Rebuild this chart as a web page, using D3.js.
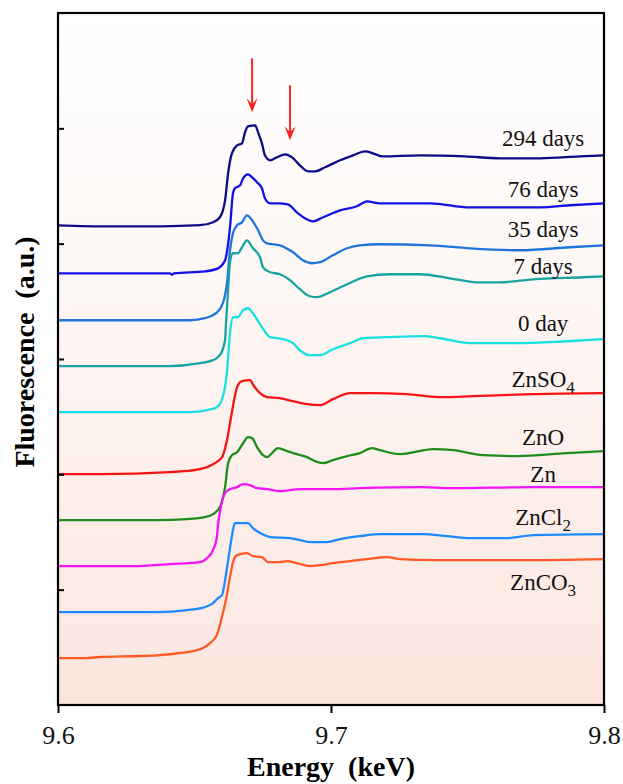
<!DOCTYPE html>
<html>
<head>
<meta charset="utf-8">
<script src="https://cdn.jsdelivr.net/npm/d3@7"></script>
<style>
  body { margin: 0; background: #fff; }
</style>
</head>
<body>
<script>
// size of the main svg element
var width = 623,
    height = 784;

// plot margins
var margin = {top: 13, right: 19, bottom: 79, left: 58};
var innerW = width - margin.left - margin.right,
    innerH = height - margin.top - margin.bottom;

var labelFont = '"Liberation Serif", "Times New Roman", Tinos, serif';

// x ticks (keV)
var xTicks = [9.6, 9.7, 9.8];
// y ticks (a.u., no labels)
var yTicks = [1, 2, 3, 4, 5];

// spectra: [energy keV, fluorescence a.u. incl. offset]
var days294 = [[9.6,4.159],[9.619,4.150],[9.6374,4.150],[9.652,4.160],[9.6568,4.186],[9.6593,4.229],
  [9.6612,4.376],[9.6623,4.610],[9.6637,4.783],[9.6656,4.853],[9.6674,4.870],[9.6685,4.965],
  [9.6696,5.017],[9.6722,5.026],[9.6733,4.965],[9.6747,4.870],[9.6758,4.766],[9.6777,4.723],
  [9.6802,4.749],[9.6832,4.775],[9.6857,4.749],[9.6886,4.679],[9.6916,4.627],[9.6941,4.627],
  [9.6978,4.662],[9.7033,4.723],[9.7081,4.766],[9.7125,4.801],[9.7154,4.783],[9.7187,4.757],
  [9.7326,4.766],[9.7491,4.757],[9.7619,4.740],[9.7766,4.740],[9.7912,4.757],[9.8,4.766]];

var days76 = [[9.6,3.743],[9.641,3.743],[9.6418,3.730],[9.6425,3.743],[9.6538,3.760],[9.6586,3.786],
  [9.6612,3.856],[9.663,4.142],[9.6641,4.437],[9.6648,4.480],[9.6667,4.506],[9.6678,4.567],
  [9.6696,4.601],[9.6711,4.575],[9.6729,4.532],[9.6747,4.480],[9.6758,4.393],[9.6777,4.350],
  [9.6806,4.350],[9.6842,4.341],[9.6875,4.272],[9.6905,4.220],[9.6934,4.194],[9.6971,4.229],
  [9.7033,4.289],[9.7095,4.324],[9.7132,4.367],[9.7179,4.350],[9.7363,4.350],[9.7509,4.315],
  [9.7766,4.315],[9.7875,4.333],[9.8,4.350]];

var days35 = [[9.6,3.336],[9.6484,3.336],[9.6538,3.354],[9.6579,3.397],[9.6604,3.484],[9.6619,3.657],
  [9.663,3.943],[9.6641,4.090],[9.6656,4.159],[9.6674,4.185],[9.6692,4.246],[9.6711,4.203],
  [9.6733,4.116],[9.6751,4.029],[9.6766,4.003],[9.6813,3.986],[9.6861,3.925],[9.6897,3.856],
  [9.693,3.830],[9.696,3.839],[9.7007,3.899],[9.7059,3.960],[9.7106,3.986],[9.7179,3.995],
  [9.7363,3.986],[9.7509,3.960],[9.7692,3.943],[9.7875,3.969],[9.8,3.986]];

var days7 = [[9.6,2.938],[9.6403,2.938],[9.652,2.964],[9.6568,2.990],[9.6593,3.033],[9.6612,3.163],
  [9.6615,3.293],[9.6623,3.596],[9.663,3.839],[9.6641,3.917],[9.6659,3.917],[9.6674,3.969],
  [9.6692,4.029],[9.6714,3.960],[9.674,3.882],[9.6751,3.795],[9.6777,3.752],[9.6813,3.735],
  [9.685,3.683],[9.6886,3.605],[9.6923,3.544],[9.6949,3.536],[9.6996,3.579],[9.7059,3.648],
  [9.7132,3.717],[9.7216,3.735],[9.7326,3.735],[9.7436,3.700],[9.7535,3.665],[9.7619,3.665],
  [9.774,3.691],[9.7923,3.709],[9.8,3.717]];

var days0 = [[9.6,2.539],[9.6484,2.539],[9.6546,2.556],[9.6582,2.582],[9.6601,2.652],[9.6619,2.886],
  [9.663,3.224],[9.6641,3.362],[9.6659,3.362],[9.6678,3.423],[9.6696,3.440],[9.6714,3.397],
  [9.6747,3.276],[9.6777,3.189],[9.6824,3.172],[9.6861,3.137],[9.6886,3.076],[9.6923,3.033],
  [9.696,3.033],[9.7007,3.085],[9.707,3.137],[9.7117,3.180],[9.7205,3.189],[9.7337,3.198],
  [9.7399,3.180],[9.7509,3.137],[9.7681,3.137],[9.7864,3.154],[9.8,3.172]];

var znso4 = [[9.6,2.002],[9.6154,2.002],[9.641,2.019],[9.652,2.045],[9.6568,2.088],[9.6601,2.149],
  [9.6619,2.296],[9.6637,2.539],[9.6656,2.756],[9.6674,2.808],[9.6703,2.816],[9.6718,2.764],
  [9.674,2.704],[9.6766,2.669],[9.6813,2.660],[9.6861,2.634],[9.6912,2.608],[9.696,2.600],
  [9.7007,2.652],[9.707,2.704],[9.7143,2.704],[9.7278,2.695],[9.741,2.669],[9.752,2.678],
  [9.774,2.695],[9.8,2.704]];

var zno = [[9.6,1.603],[9.6363,1.603],[9.6473,1.612],[9.6538,1.629],[9.6568,1.655],[9.6593,1.716],
  [9.6612,1.889],[9.6623,2.097],[9.6637,2.166],[9.6656,2.192],[9.6678,2.270],[9.6696,2.322],
  [9.6711,2.314],[9.6729,2.236],[9.6751,2.166],[9.6766,2.149],[9.6784,2.184],[9.6806,2.227],
  [9.6839,2.201],[9.6875,2.175],[9.6912,2.149],[9.6941,2.114],[9.6971,2.097],[9.7007,2.123],
  [9.7059,2.158],[9.7106,2.184],[9.715,2.227],[9.7179,2.210],[9.7253,2.175],[9.7374,2.218],
  [9.7447,2.210],[9.7557,2.166],[9.7681,2.158],[9.7864,2.184],[9.8,2.201]];

var zn = [[9.6,1.204],[9.6275,1.204],[9.641,1.222],[9.652,1.239],[9.6546,1.274],[9.6568,1.343],
  [9.6582,1.456],[9.6586,1.560],[9.6593,1.672],[9.6604,1.794],[9.6623,1.863],[9.6656,1.889],
  [9.6678,1.915],[9.6703,1.906],[9.6729,1.880],[9.6766,1.872],[9.6813,1.854],[9.6886,1.872],
  [9.7007,1.872],[9.7106,1.880],[9.7337,1.889],[9.7436,1.880],[9.774,1.889],[9.8,1.889]];

var zncl2 = [[9.6,0.806],[9.6363,0.806],[9.6473,0.823],[9.6538,0.849],[9.6568,0.884],[9.6586,0.927],
  [9.6601,0.953],[9.6612,1.083],[9.663,1.360],[9.6641,1.516],[9.6648,1.577],[9.6696,1.577],
  [9.6714,1.534],[9.6747,1.482],[9.6777,1.456],[9.685,1.447],[9.6886,1.430],[9.6923,1.412],
  [9.6985,1.412],[9.7033,1.438],[9.7106,1.464],[9.7179,1.482],[9.7337,1.482],[9.7425,1.464],
  [9.7498,1.447],[9.7645,1.447],[9.774,1.473],[9.8,1.482]];

var znco3 = [[9.6,0.407],[9.6099,0.407],[9.6154,0.416],[9.63,0.425],[9.6374,0.433],[9.6447,0.451],
  [9.6495,0.468],[9.6531,0.494],[9.6557,0.537],[9.6582,0.607],[9.6593,0.693],[9.6604,0.797],
  [9.6615,0.910],[9.663,1.109],[9.6641,1.239],[9.6656,1.300],[9.6692,1.317],[9.6714,1.291],
  [9.6747,1.282],[9.6769,1.239],[9.6813,1.239],[9.6839,1.248],[9.6875,1.230],[9.6923,1.204],
  [9.696,1.213],[9.7007,1.230],[9.707,1.248],[9.7132,1.265],[9.7205,1.282],[9.7253,1.265],
  [9.7374,1.256],[9.7692,1.256],[9.8,1.265]];

// series names and subscripts (second part is drawn as subscript)
var seriesNames = [["294 days",""],["76 days",""],["35 days",""],["7 days",""],["0 day",""],
  ["ZnSO","4"],["ZnO",""],["Zn",""],["ZnCl","2"],["ZnCO","3"]];
var seriesData = [days294, days76, days35, days7, days0, znso4, zno, zn, zncl2, znco3];
var seriesColors = ["#0c0c88", "#1212e6", "#1f74dc", "#18a3a3", "#16e0e0",
  "#f51414", "#1d8d1d", "#f514f5", "#1d8bff", "#ff5a25"];

// where each label sits (energy, a.u.)
var labelEnergy = 9.7777;
var labelLevels = [4.844, 4.402, 4.055, 3.735, 3.241, 2.756, 2.253, 1.932, 1.560, 0.997];

// arrows marking the two features: energy, top and tip (a.u.)
var arrows = [[9.6711, 5.607, 5.139], [9.685, 5.373, 4.896]];

var svg = d3.select('body')
  .append('svg')
  .attr('width', width)
  .attr('height', height);

// background gradient, white at the top fading to pink
var grad = svg.append('defs').append('linearGradient')
  .attr('id', 'bg')
  .attr('x1', 0).attr('y1', 0).attr('x2', 0).attr('y2', 1);
grad.append('stop').attr('offset', '0%').attr('stop-color', '#ffffff');
grad.append('stop').attr('offset', '35%').attr('stop-color', '#fdf8f6');
grad.append('stop').attr('offset', '100%').attr('stop-color', '#fce6df');

var g = svg.append('g')
  .attr('transform', 'translate(' + margin.left + ',' + margin.top + ')');

var x = d3.scaleLinear().domain([9.6, 9.8]).range([0, innerW]);
var y = d3.scaleLinear().domain([0, 6]).range([innerH, 0]);

g.append('rect')
  .attr('width', innerW)
  .attr('height', innerH)
  .attr('fill', 'url(#bg)');

// spectra
var line = d3.line()
  .curve(d3.curveMonotoneX)
  .x(function(d) { return x(d[0]); })
  .y(function(d) { return y(d[1]); });

g.selectAll('.spec')
  .data(seriesData)
  .enter().append('path')
  .attr('class', 'spec')
  .attr('d', line)
  .attr('fill', 'none')
  .attr('stroke', function(d, i) { return seriesColors[i]; })
  .attr('stroke-width', 2.3)
  .attr('stroke-linejoin', 'round');

// labels
var labels = g.selectAll('.lab')
  .data(seriesNames)
  .enter().append('text')
  .attr('class', 'lab')
  .attr('x', x(labelEnergy))
  .attr('y', function(d, i) { return y(labelLevels[i]); })
  .attr('text-anchor', 'middle')
  .style('font-family', labelFont, 'important')
  .style('font-size', '23px')
  .attr('fill', '#111');
labels.append('tspan').text(function(d) { return d[0]; });
labels.append('tspan')
  .attr('dy', 6)
  .style('font-size', '17px')
  .text(function(d) { return d[1]; });

// red arrows
var arrowG = g.selectAll('.arrow')
  .data(arrows)
  .enter().append('g')
  .attr('class', 'arrow');
arrowG.append('line')
  .attr('x1', function(d) { return x(d[0]); })
  .attr('x2', function(d) { return x(d[0]); })
  .attr('y1', function(d) { return y(d[1]); })
  .attr('y2', function(d) { return y(d[2]) - 6; })
  .attr('stroke', '#ff2222')
  .attr('stroke-width', 2);
arrowG.append('path')
  .attr('d', function(d) {
    var px = x(d[0]), py = y(d[2]);
    return 'M' + px + ',' + py + 'L' + (px - 5.5) + ',' + (py - 14) +
      'L' + px + ',' + (py - 8) + 'L' + (px + 5.5) + ',' + (py - 14) + 'Z';
  })
  .attr('fill', '#ff2222');

// x axis
var xAxis = g.append('g')
  .attr('transform', 'translate(0,' + innerH + ')')
  .call(d3.axisBottom(x).tickValues(xTicks).tickSize(8).tickPadding(12.5)
    .tickFormat(d3.format('.1f')));
xAxis.select('.domain').remove();
xAxis.selectAll('line').attr('stroke', '#000').attr('stroke-width', 2);
xAxis.selectAll('text')
  .style('font-size', '26px')
  .style('font-family', labelFont, 'important')
  .attr('fill', '#111');

// y axis, ticks pointing inward and no labels
var yAxis = g.append('g')
  .call(d3.axisLeft(y).tickValues(yTicks).tickSize(-6).tickFormat(''));
yAxis.select('.domain').remove();
yAxis.selectAll('line').attr('stroke', '#000').attr('stroke-width', 2);

// frame
g.append('rect')
  .attr('width', innerW)
  .attr('height', innerH)
  .attr('fill', 'none')
  .attr('stroke', '#000')
  .attr('stroke-width', 2.2);

// axis titles
svg.append('text')
  .attr('x', margin.left + innerW / 2)
  .attr('y', 776)
  .attr('text-anchor', 'middle')
  .style('font-family', labelFont, 'important')
  .style('font-size', '28px')
  .style('font-weight', 'bold')
  .text('Energy\u00a0\u00a0(keV)');

svg.append('text')
  .attr('transform', 'translate(34,352) rotate(-90)')
  .attr('text-anchor', 'middle')
  .style('font-family', labelFont, 'important')
  .style('font-size', '28px')
  .style('font-weight', 'bold')
  .text('Fluorescence\u00a0\u00a0(a.u.)');
</script>
</body>
</html>
